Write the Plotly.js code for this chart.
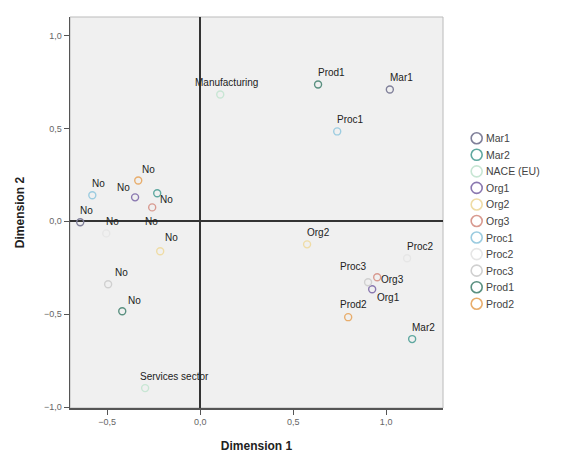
<!DOCTYPE html>
<html>
<head>
<meta charset="utf-8">
<script src="https://cdn.plot.ly/plotly-3.0.1.min.js"></script>
<style>
  html, body { margin: 0; padding: 0; background: #ffffff; }
  #chart { width: 574px; height: 457px; }
</style>
</head>
<body>
<div id="chart"></div>
<script>
// Joint plot of category points (multiple correspondence analysis)
const variables = ['Mar1', 'Mar2', 'NACE (EU)', 'Org1', 'Org2', 'Org3',
                   'Proc1', 'Proc2', 'Proc3', 'Prod1', 'Prod2'];

// Category names for each variable: [first category, second category]
const categories = [
  ['No', 'Mar1'], ['No', 'Mar2'], ['Manufacturing', 'Services sector'],
  ['No', 'Org1'], ['No', 'Org2'], ['No', 'Org3'],
  ['No', 'Proc1'], ['No', 'Proc2'], ['No', 'Proc3'],
  ['No', 'Prod1'], ['No', 'Prod2']
];

// Category quantifications on Dimension 1
const dimension1 = [
  [-0.645, 1.02], [-0.231, 1.14], [0.108, -0.296],
  [-0.35, 0.925], [-0.215, 0.575], [-0.258, 0.952],
  [-0.58, 0.737], [-0.505, 1.113], [-0.495, 0.903],
  [-0.419, 0.634], [-0.333, 0.796]
];

// Category quantifications on Dimension 2
const dimension2 = [
  [-0.005, 0.71], [0.151, -0.634], [0.683, -0.898],
  [0.129, -0.366], [-0.161, -0.124], [0.075, -0.301],
  [0.14, 0.484], [-0.065, -0.199], [-0.339, -0.328],
  [-0.484, 0.737], [0.22, -0.516]
];

const tickValues = [-1.0, -0.5, 0.0, 0.5, 1.0];

// Marker outline colour per variable
const colors = ['#80809a', '#5fa8a0', '#c8e6d4', '#8a78b0', '#efdca6', '#d89a90',
                '#9ccce0', '#e6e6e6', '#d0d0d0', '#5a9080', '#e8ad6c'];

// Label offsets in pixels (dx, dy) where a label was nudged away from its point
const defaultShift = [0, 12];
const labelShift = {
  '2-0': [-25, 12], '2-1': [-5, 12],
  '3-0': [-18, 10], '3-1': [5, -8],
  '1-0': [3, -6],
  '5-0': [-7, -14], '5-1': [4, -2],
  '4-0': [5, 14],
  '8-0': [7, 12], '8-1': [-28, 16],
  '9-0': [6, 11],
  '10-0': [4, 11], '10-1': [-8, 13]
};

const baseFont = 'Liberation Sans, Arial, sans-serif';

const traces = variables.map((name, i) => ({
  type: 'scatter',
  mode: 'markers',
  name: name,
  x: dimension1[i],
  y: dimension2[i],
  text: categories[i],
  hoverinfo: 'text+name',
  showlegend: false,
  marker: {
    symbol: 'circle-open',
    size: 7,
    color: colors[i],
    line: { width: 1.4, color: colors[i] }
  }
}));

// Compact key on its own pair of hidden axes, one row per variable
traces.push({
  type: 'scatter',
  mode: 'markers',
  xaxis: 'x2',
  yaxis: 'y2',
  x: variables.map(() => 0),
  y: variables.map((v, i) => i),
  text: variables,
  hoverinfo: 'skip',
  showlegend: false,
  cliponaxis: false,
  marker: {
    symbol: 'circle-open',
    size: 11,
    color: colors,
    line: { width: 1.6, color: colors }
  }
});

const annotations = [];
variables.forEach((name, i) => {
  categories[i].forEach((label, j) => {
    const s = labelShift[i + '-' + j] || defaultShift;
    annotations.push({
      x: dimension1[i][j],
      y: dimension2[i][j],
      xref: 'x', yref: 'y',
      text: label,
      showarrow: false,
      xanchor: 'left',
      yanchor: 'middle',
      xshift: s[0] - 2,
      yshift: s[1],
      font: { family: baseFont, size: 10, color: '#222222' }
    });
  });
  // key label next to its swatch
  annotations.push({
    x: 0, y: i, xref: 'x2', yref: 'y2',
    text: name,
    showarrow: false,
    xanchor: 'left', yanchor: 'middle',
    xshift: 7,
    font: { family: baseFont, size: 10.5, color: '#444444' }
  });
});

const hiddenAxis = {
  showgrid: false, zeroline: false, showline: false,
  showticklabels: false, ticks: '', fixedrange: true
};

const layout = {
  width: 574,
  height: 457,
  margin: { l: 70, r: 10, t: 17, b: 49 },
  paper_bgcolor: '#ffffff',
  plot_bgcolor: '#ffffff',
  separators: ',.',
  showlegend: false,
  xaxis: {
    domain: [0, 0.7551],
    range: [-0.70, 1.306],
    tickvals: tickValues,
    tickformat: '.1f',
    ticks: 'outside',
    ticklen: 5,
    tickcolor: '#555555',
    tickfont: { family: baseFont, size: 9, color: '#666666' },
    showgrid: false,
    zeroline: true,
    zerolinecolor: '#333333',
    zerolinewidth: 2,
    showline: true,
    linecolor: '#555555',
    linewidth: 1.5,
    mirror: false,
    title: { text: '<b>Dimension 1</b>', font: { family: baseFont, size: 12, color: '#222222' }, standoff: 15 }
  },
  yaxis: {
    range: [-1.005, 1.10],
    tickvals: tickValues,
    tickformat: '.1f',
    ticks: 'outside',
    ticklen: 5,
    tickcolor: '#555555',
    tickfont: { family: baseFont, size: 9, color: '#666666' },
    showgrid: false,
    zeroline: true,
    zerolinecolor: '#333333',
    zerolinewidth: 2,
    showline: true,
    linecolor: '#555555',
    linewidth: 1.5,
    title: { text: '<b>Dimension 2</b>', font: { family: baseFont, size: 12, color: '#222222' }, standoff: 16 }
  },
  xaxis2: Object.assign({ domain: [0.8036, 1], range: [-0.1, 0.9], anchor: 'y2' }, hiddenAxis),
  yaxis2: Object.assign({ domain: [0.2455, 0.711], range: [10.5, -0.5], anchor: 'x2' }, hiddenAxis),
  shapes: [{
    type: 'rect', xref: 'x domain', yref: 'y domain',
    x0: 0, x1: 1, y0: 0, y1: 1,
    fillcolor: '#f0f0f0',
    layer: 'below',
    line: { color: '#bbbbbb', width: 1 }
  }],
  annotations: annotations
};

Plotly.newPlot('chart', traces, layout, { displayModeBar: false, staticPlot: true });
</script>
</body>
</html>
